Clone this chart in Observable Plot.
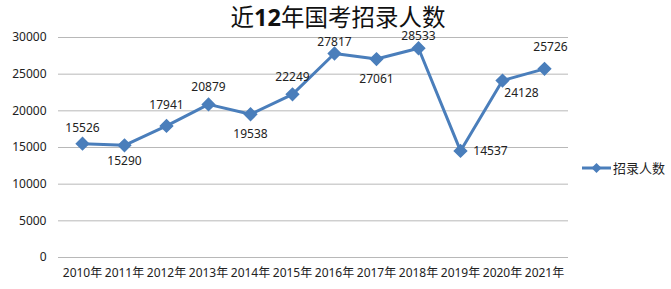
<!DOCTYPE html>
<html>
<head>
<meta charset="utf-8">
<script src="https://cdn.jsdelivr.net/npm/d3@7"></script>
<script src="https://cdn.jsdelivr.net/npm/@observablehq/plot@0.6"></script>
<style>
  body { margin: 0; background: #fff; }
  #wrap { position: relative; width: 671px; height: 289px; font-family: "Noto Sans", "Noto Sans CJK SC", sans-serif; }
  #title { position: absolute; left: 10px; width: 656px; top: 3px; text-align: center; font-size: 23.5px; color: #111; font-family: "Noto Sans CJK SC", sans-serif; line-height: 26px; white-space: nowrap; }
  #title b { font-family: "Noto Sans", sans-serif; font-weight: bold; }
  #legend { position: absolute; left: 581px; top: 160px; font-size: 13px; color: #222; display: flex; align-items: center; font-family: "Noto Sans CJK SC", sans-serif; line-height: 16px; }
</style>
</head>
<body>
<div id="wrap">
  <div id="chart"></div>
  <div id="title">近<b>12</b>年国考招录人数</div>
  <div id="legend"><svg width="31" height="14"><line x1="1" y1="7" x2="30" y2="7" stroke="#4A7EBB" stroke-width="3"/><path d="M15.5,2 L20.5,7 L15.5,12 L10.5,7Z" fill="#4A7EBB"/></svg><span style="margin-left:1px">招录人数</span></div>
</div>
<script>
const years = ["2010年","2011年","2012年","2013年","2014年","2015年","2016年","2017年","2018年","2019年","2020年","2021年"];
const recruits = [15526, 15290, 17941, 20879, 19538, 22249, 27817, 27061, 28533, 14537, 24128, 25726];
const yTicks = [0, 5000, 10000, 15000, 20000, 25000, 30000];
// label offsets in pixels (styling only)
const labelDx = [0, 0, 0, 0, 0, 0, 0, 0, 0, 30, 19, 6];
const labelDy = [-15, 16, -21, -17, 20, -17, -11, 20, -12, 0, 13, -22];

const data = years.map((year, i) => ({year, value: recruits[i]}));
const blue = "#4A7EBB";
const plotW = 671 - 58 - 103;

const labels = data.map((d, i) => Plot.text([d], {
  x: "year", y: "value", text: r => String(r.value),
  dx: labelDx[i], dy: labelDy[i], fill: "#222"
}));

const chart = Plot.plot({
  width: 671,
  height: 289,
  marginTop: 37,
  marginBottom: 32,
  marginLeft: 58,
  marginRight: 103,
  style: { fontFamily: "'Noto Sans', 'Noto Sans CJK SC', sans-serif", fontSize: "12px", color: "#222", background: "#fff" },
  x: { type: "point", domain: years, padding: 0.5, label: null },
  y: { domain: [0, 30000], label: null },
  marks: [
    Plot.ruleY(yTicks, { stroke: "#B8B8B8", strokeWidth: 1 }),
    Plot.ruleX([0], { y1: 0, y2: 30000, dx: -plotW / 2, stroke: "#B8B8B8" }),
    Plot.axisY({ ticks: yTicks, tickSize: 0, tickPadding: 12, tickFormat: d => String(d), fill: "#222" }),
    Plot.axisX({ tickSize: 0, tickPadding: 11, fill: "#222" }),
    Plot.line(data, { x: "year", y: "value", stroke: blue, strokeWidth: 3 }),
    Plot.dot(data, { x: "year", y: "value", symbol: "diamond2", r: 5.5, fill: blue, stroke: blue }),
    ...labels
  ]
});
document.getElementById("chart").appendChild(chart);
</script>
</body>
</html>
